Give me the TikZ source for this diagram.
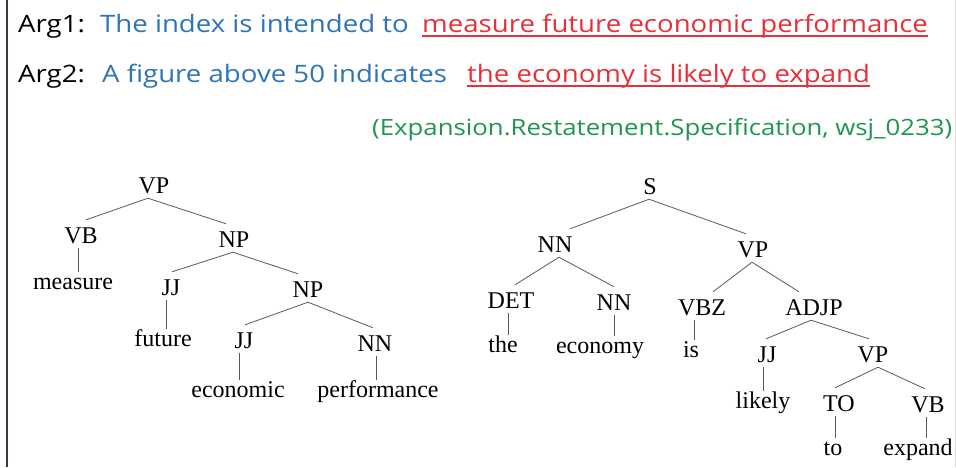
\documentclass[tikz,border=0pt]{standalone}
\usepackage{fontspec}
\setmainfont{Liberation Serif}
\newfontfamily\argfont[FakeStretch=1.15]{Open Sans}
\usetikzlibrary{calc}
\definecolor{argblue}{RGB}{46,117,182}
\definecolor{argred}{RGB}{232,48,58}
\definecolor{arggreen}{RGB}{30,150,80}
\definecolor{framecol}{RGB}{45,58,72}
\definecolor{treeline}{RGB}{90,90,90}
\newcommand\tedge[4]{\draw[tline] ([xshift=#3pt,yshift=-5pt]#1.south) -- ([xshift=#4pt,yshift=7pt]#2.north);}
\newcommand\ledge[3]{\draw[tline] ([xshift=#3pt,yshift=-5pt]#1.south) -- ([xshift=#3pt,yshift=1pt]#1.south |- #2.north);}
\begin{document}
\begin{tikzpicture}[x=1pt,y=-1pt,
  argtxt/.style={anchor=base west, inner sep=0pt, font=\argfont\fontsize{24}{28}\selectfont},
  reltxt/.style={anchor=base west, inner sep=0pt, font=\argfont\fontsize{22.4}{26}\selectfont},
  lab/.style={anchor=base, inner sep=0pt, text height=16pt, text depth=0pt, font=\fontsize{24}{28}\selectfont},
  tline/.style={draw=treeline, line width=0.8pt},
  uline/.style={draw=argred, line width=1.3pt}]
\useasboundingbox (0,0) rectangle (956,467);
\fill[white] (0,0) rectangle (956,467);
\draw[framecol, line width=2pt] (7,0) -- (7,467);
\draw[black!15, line width=1pt] (955.5,0) -- (955.5,467);

% argument lines
\node[argtxt] (a1) at (18,32) {Arg1:};
\node[argtxt, text=argblue] (a1b) at (100,32) {The index is intended to};
\node[argtxt, text=argred] (a1r) at (422,32) {measure future economic performance};
\draw[uline] ([yshift=-4pt]a1r.base west) -- ([yshift=-4pt]a1r.base east);
\node[argtxt] (a2) at (18,82) {Arg2:};
\node[argtxt, text=argblue] (a2b) at (102,82) {A figure above 50 indicates};
\node[argtxt, text=argred] (a2r) at (467,82) {the economy is likely to expand};
\draw[uline] ([yshift=-4pt]a2r.base west) -- ([yshift=-4pt]a2r.base east);
\node[reltxt, text=arggreen] (rel) at (372,135) {(Expansion.Restatement.Specification, wsj\_0233)};

% left tree
\node[lab] (vp) at (154,193) {VP};
\node[lab] (vb) at (81,243) {VB};
\node[lab] (np) at (234,247) {NP};
\node[lab] (measure) at (73,289) {measure};
\node[lab] (jj) at (171,295) {JJ};
\node[lab] (np2) at (308,297) {NP};
\node[lab] (future) at (163,346) {future};
\node[lab] (jj2) at (244,348) {JJ};
\node[lab] (nn) at (375,351) {NN};
\node[lab] (economic) at (238,397) {economic};
\node[lab] (perf) at (378,397) {performance};
\tedge{vp}{vb}{-6}{5}
\tedge{vp}{np}{-6}{-8}
\tedge{np}{jj}{-1}{1}
\tedge{np}{np2}{-1}{-10}
\tedge{np2}{jj2}{0}{1}
\tedge{np2}{nn}{0}{-2}
\ledge{vb}{measure}{-3}
\ledge{jj}{future}{-5}
\ledge{jj2}{economic}{-5}
\ledge{nn}{perf}{1}

% right tree
\node[lab] (s) at (650,194) {S};
\node[lab] (rnn) at (555,252) {NN};
\node[lab] (rvp) at (753,257) {VP};
\node[lab] (det) at (511,308) {DET};
\node[lab] (rnn2) at (614,310) {NN};
\node[lab] (vbz) at (702,315) {VBZ};
\node[lab] (adjp) at (814,315) {ADJP};
\node[lab] (the) at (503,352) {the};
\node[lab] (economy) at (600,353) {economy};
\node[lab] (is) at (691,357) {is};
\node[lab] (rjj) at (767,362) {JJ};
\node[lab] (rvp2) at (873,362) {VP};
\node[lab] (likely) at (763,408) {likely};
\node[lab] (to) at (839,411) {TO};
\node[lab] (rvb) at (928,412) {VB};
\node[lab] (towd) at (833,455) {to};
\node[lab] (expand) at (918,455) {expand};
\tedge{s}{rnn}{-1}{15}
\tedge{s}{rvp}{-1}{-7}
\tedge{rnn}{det}{4}{4}
\tedge{rnn}{rnn2}{4}{0}
\tedge{rvp}{vbz}{-1}{11}
\tedge{rvp}{adjp}{-1}{-15}
\tedge{adjp}{rjj}{-3}{-1}
\tedge{adjp}{rvp2}{-3}{-4}
\tedge{rvp2}{to}{5}{-4}
\tedge{rvp2}{rvb}{5}{-3}
\ledge{det}{the}{-3}
\ledge{rnn2}{economy}{0}
\ledge{vbz}{is}{-8}
\ledge{rjj}{likely}{-4}
\ledge{to}{towd}{-4}
\ledge{rvb}{expand}{-2}
\end{tikzpicture}
\end{document}
